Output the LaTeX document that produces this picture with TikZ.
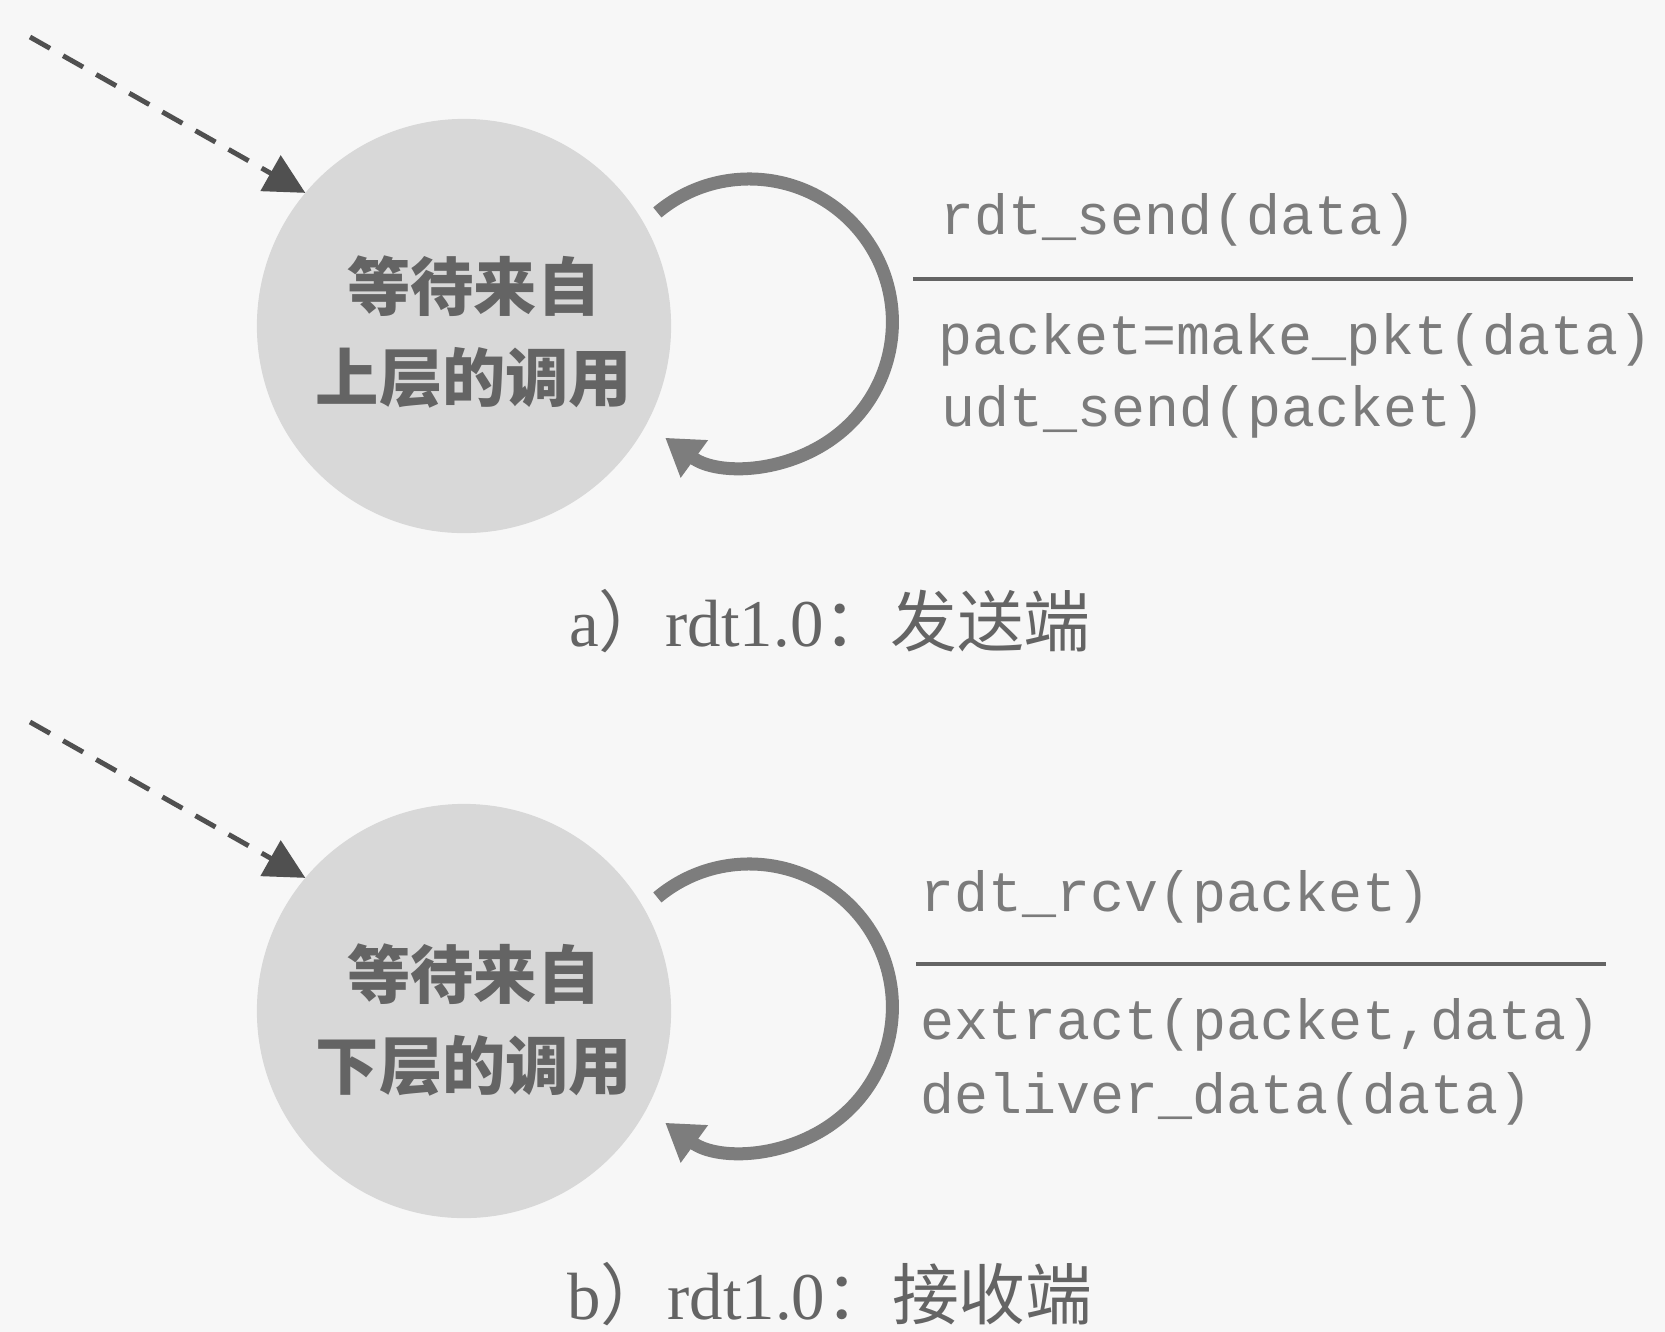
\documentclass[tikz,border=0pt]{standalone}
\usepackage{fontspec}
\setmainfont{Liberation Serif}
\setmonofont{Liberation Mono}
\newfontfamily\cjk{Noto Sans CJK SC}
\usepackage{tikz}
\usetikzlibrary{arrows.meta,positioning}
\definecolor{paper}{RGB}{247,247,247}
\definecolor{stfill}{RGB}{216,216,216}
\definecolor{ink}{RGB}{100,100,100}
\definecolor{loopgray}{RGB}{125,125,125}
\definecolor{dashgray}{RGB}{80,80,80}

\begin{document}
\begin{tikzpicture}[x=0.01cm,y=-0.01cm]
\tikzset{
  fsmstate/.style={circle,fill=stfill,minimum size=4.14cm,inner sep=0pt,outer sep=0pt},
  stlabel/.style={text=ink,align=center,font=\cjk\bfseries\fontsize{18}{25.6}\selectfont},
  initarr/.style={draw=dashgray,line width=1.4pt,dash pattern=on 2.3mm off 1.5mm,-{Triangle[length=4mm,width=4mm]}},
  selfloop/.style={draw=loopgray,line width=3.7pt,-{Triangle[length=3.6mm,width=4.4mm]}},
  act/.style={anchor=west,inner sep=0pt,text=ink!85,font=\ttfamily\fontsize{16.1}{19}\selectfont},
  bar/.style={draw=ink,line width=1.4pt},
  caplabel/.style={text=ink,font=\fontsize{19}{22}\selectfont}
}
\useasboundingbox (0,0) rectangle (1665,1332);
\fill[paper] (0,0) rectangle (1665,1332);
% a) sender
\node[fsmstate] (wsend) at (464,326) {};
\node[stlabel] (wsendtxt) at (474,332) {等待来自\\上层的调用};
\coordinate (inita) at (30,37);
\draw[initarr] (inita) -- (wsend.140);
\draw[selfloop] ([shift={(14,-10)}]wsend.30) arc[start angle=130,end angle=-126,radius=1.43cm];
\node[act] (evsend) at (940,220) {rdt\_send(data)};
\draw[bar] (913,279) -- (1633,279);
\node[act] (acmake) at (938,340) {packet=make\_pkt(data)};
\node[act] (acudt) at (941,412) {udt\_send(packet)};
\node[caplabel] (capa) at (830,621) {a{\cjk ）}rdt1.0{\cjk ：发送端}};
% b) receiver
\node[fsmstate] (wrecv) at (464,1011) {};
\node[stlabel] (wrecvtxt) at (474,1020) {等待来自\\下层的调用};
\coordinate (initb) at (30,722);
\draw[initarr] (initb) -- (wrecv.140);
\draw[selfloop] ([shift={(14,-10)}]wrecv.30) arc[start angle=130,end angle=-126,radius=1.43cm];
\node[act] (evrcv) at (920,897) {rdt\_rcv(packet)};
\draw[bar] (916,964) -- (1606,964);
\node[act] (acext) at (920,1025) {extract(packet,data)};
\node[act] (acdel) at (920,1099) {deliver\_data(data)};
\node[caplabel] (capb) at (830,1294) {b{\cjk ）}rdt1.0{\cjk ：接收端}};
\end{tikzpicture}
\end{document}
